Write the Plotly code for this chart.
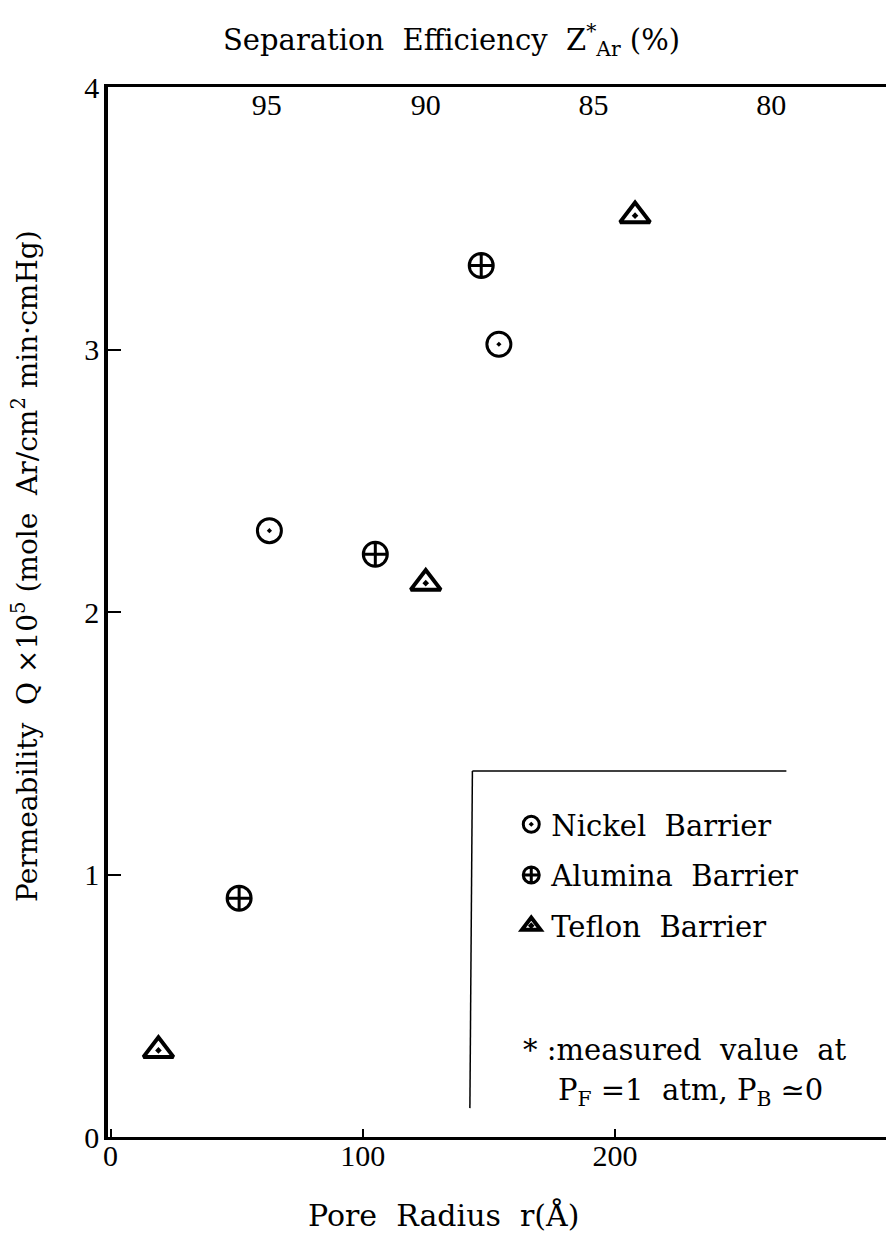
import plotly.graph_objects as go

# ---- data ----
pore_ticks = [0, 100, 200]
perm_ticks = [0, 1, 2, 3, 4]
eff_labels = ["95", "90", "85", "80"]
eff_pos = [62, 125, 191.5, 262]          # position of each efficiency tick on the pore-radius scale

nickel_r = [63, 154]
nickel_q = [2.31, 3.02]
alumina_r = [51, 105, 147]
alumina_q = [0.91, 2.22, 3.32]
teflon_r = [19, 125, 208]
teflon_q = [0.33, 2.11, 3.51]

NB = "\u00a0"
TXT = "DejaVu Serif"
NUM = "Liberation Serif"

fig = go.Figure()

fig.add_trace(go.Scatter(
    x=nickel_r, y=nickel_q, mode="markers", name="Nickel" + NB * 2 + "Barrier",
    legendgroup="n",
    marker=dict(symbol="circle-open-dot", size=24, color="black", line=dict(width=3, color="black")),
))
fig.add_trace(go.Scatter(
    x=alumina_r, y=alumina_q, mode="markers", name="Alumina" + NB * 2 + "Barrier",
    legendgroup="a",
    marker=dict(symbol="circle-cross-open", size=24, color="black", line=dict(width=3, color="black")),
))
fig.add_trace(go.Scatter(
    x=teflon_r, y=teflon_q, mode="markers", name="Teflon" + NB * 2 + "Barrier",
    legendgroup="t",
    marker=dict(symbol="triangle-up-open-dot", size=26, color="black", line=dict(width=4, color="black")),
))

# the page body adds an 8px margin, so the figure is 8px smaller than the window
W, H = 886, 1227
L, R, T, B = 100, 2, 79, 98

fig.update_layout(
    width=W, height=H,
    margin=dict(l=L, r=R, t=T, b=B),
    paper_bgcolor="white", plot_bgcolor="white",
    font=dict(family=TXT, size=29, color="black"),
    showlegend=True,
    legend=dict(
        x=0.517, y=0.322, xanchor="left", yanchor="top",
        font=dict(family=TXT, size=29, color="black"),
        bgcolor="rgba(0,0,0,0)", tracegroupgap=10, itemwidth=30,
    ),
    xaxis=dict(
        range=[-1, 308.3], tickmode="array", tickvals=pore_ticks,
        ticktext=[str(v) for v in pore_ticks],
        ticks="inside", ticklen=8, tickwidth=2, tickcolor="black",
        showline=True, linewidth=3, linecolor="black", mirror=True,
        showgrid=False, zeroline=False,
        tickfont=dict(family=NUM, size=30, color="black"),
        ticklabelstandoff=-10,
    ),
    xaxis2=dict(
        range=[-1, 308.3], overlaying="x", side="top", anchor="free", position=0.9676,
        tickmode="array", tickvals=eff_pos, ticktext=eff_labels,
        ticks="", showline=False, showgrid=False, zeroline=False,
        tickfont=dict(family=NUM, size=30, color="black"),
    ),
    yaxis=dict(
        range=[0, 4], tickmode="array", tickvals=perm_ticks,
        ticktext=[str(v) for v in perm_ticks],
        ticks="inside", ticklen=13, tickwidth=2, tickcolor="black",
        showline=True, linewidth=3.5, linecolor="black", mirror=True,
        showgrid=False, zeroline=False,
        tickfont=dict(family=NUM, size=30, color="black"),
        ticklabelstandoff=-1,
    ),
)

# invisible trace so that the efficiency axis is drawn
fig.add_trace(go.Scatter(x=[eff_pos[0]], y=[None], xaxis="x2", yaxis="y",
                         mode="markers", showlegend=False, hoverinfo="skip"))

# legend frame (top and left lines only, as in the reference)
fig.add_shape(type="line", xref="x", yref="y", x0=143.5, x1=268, y0=1.394, y1=1.394,
              line=dict(color="black", width=1.5))
fig.add_shape(type="line", xref="x", yref="y", x0=143.5, x1=142.5, y0=1.394, y1=0.11,
              line=dict(color="black", width=1.5))

# titles
fig.add_annotation(
    text="Separation" + NB * 2 + "Efficiency" + NB * 2 + "Z<sup>*</sup><sub>Ar</sub>" + NB + "(%)",
    xref="paper", yref="paper", x=0.44, y=1.0448, xanchor="center", yanchor="middle",
    showarrow=False, font=dict(family=TXT, size=29, color="black"),
)
fig.add_annotation(
    text="Pore" + NB * 2 + "Radius" + NB * 2 + "r(Å)",
    xref="paper", yref="paper", x=0.43, y=-0.0743, xanchor="center", yanchor="middle",
    showarrow=False, font=dict(family=TXT, size=30, color="black"),
)
fig.add_annotation(
    text="Permeability" + NB * 2 + "Q" + NB + "×10<sup>5</sup>" + NB + "(mole" + NB * 2 + "Ar/cm<sup>2</sup>" + NB + "min·cmHg)",
    xref="paper", yref="paper", x=-0.105, y=0.544, xanchor="center", yanchor="middle",
    textangle=-90, showarrow=False, font=dict(family=TXT, size=28, color="black"),
)

# footnote
fig.add_annotation(
    text="*" + NB + ":measured" + NB * 2 + "value" + NB * 2 + "at",
    xref="paper", yref="paper", x=0.529, y=0.0829, xanchor="left", yanchor="middle",
    showarrow=False, font=dict(family=TXT, size=29, color="black"),
)
fig.add_annotation(
    text="P<sub>F</sub>" + NB + "=1" + NB * 2 + "atm," + NB + "P<sub>B</sub>" + NB + "≃0",
    xref="paper", yref="paper", x=0.574, y=0.0429, xanchor="left", yanchor="middle",
    showarrow=False, font=dict(family=TXT, size=29, color="black"),
)

fig.write_html("out.html")
